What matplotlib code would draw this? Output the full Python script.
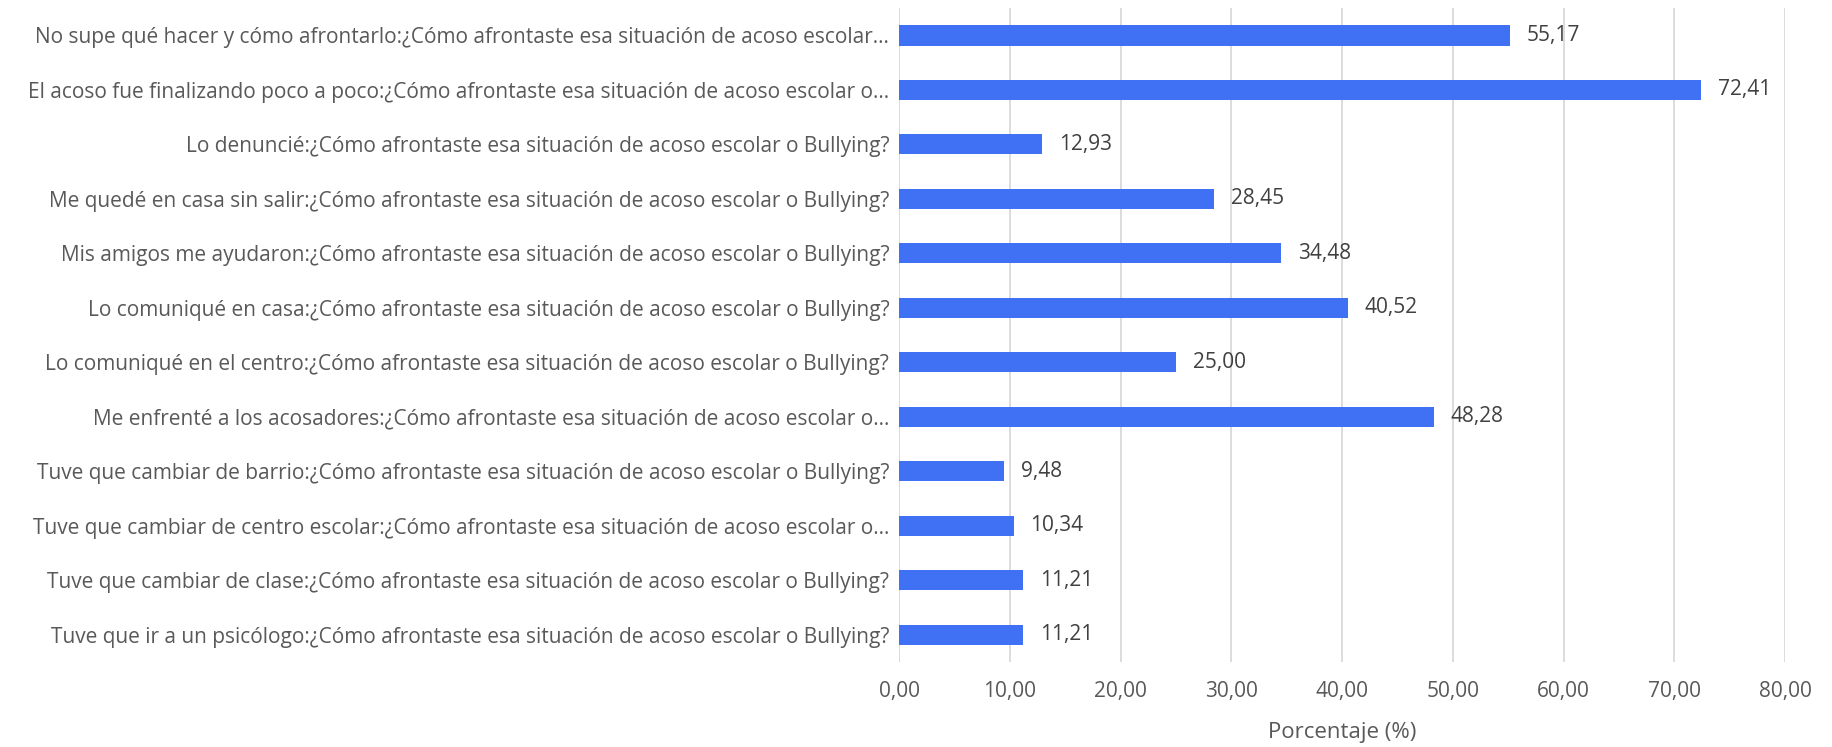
import matplotlib.pyplot as plt
from matplotlib.ticker import FuncFormatter

categories = [
    "No supe qué hacer y cómo afrontarlo:¿Cómo afrontaste esa situación de acoso escolar…",
    "El acoso fue finalizando poco a poco:¿Cómo afrontaste esa situación de acoso escolar o…",
    "Lo denuncié:¿Cómo afrontaste esa situación de acoso escolar o Bullying?",
    "Me quedé en casa sin salir:¿Cómo afrontaste esa situación de acoso escolar o Bullying?",
    "Mis amigos me ayudaron:¿Cómo afrontaste esa situación de acoso escolar o Bullying?",
    "Lo comuniqué en casa:¿Cómo afrontaste esa situación de acoso escolar o Bullying?",
    "Lo comuniqué en el centro:¿Cómo afrontaste esa situación de acoso escolar o Bullying?",
    "Me enfrenté a los acosadores:¿Cómo afrontaste esa situación de acoso escolar o…",
    "Tuve que cambiar de barrio:¿Cómo afrontaste esa situación de acoso escolar o Bullying?",
    "Tuve que cambiar de centro escolar:¿Cómo afrontaste esa situación de acoso escolar o…",
    "Tuve que cambiar de clase:¿Cómo afrontaste esa situación de acoso escolar o Bullying?",
    "Tuve que ir a un psicólogo:¿Cómo afrontaste esa situación de acoso escolar o Bullying?",
]
porcentaje = [55.17, 72.41, 12.93, 28.45, 34.48, 40.52, 25.00, 48.28, 9.48, 10.34, 11.21, 11.21]
x_ticks = [0, 10, 20, 30, 40, 50, 60, 70, 80]

plt.rcParams['font.family'] = ['Open Sans', 'DejaVu Sans']

def coma(v, pos=None):
    return f"{v:.2f}".replace(".", ",")

fig = plt.figure(figsize=(18.33, 7.47), dpi=100)
ax = fig.add_axes([0.4905, 0.1138, 0.4833, 0.8752])

pos = list(range(len(categories)))
ax.barh(pos, porcentaje, height=0.37, color="#4070F4", zorder=3)
for p, v in zip(pos, porcentaje):
    ax.annotate(coma(v), (v, p), xytext=(12, 0), textcoords="offset points",
                va="center", ha="left", fontsize=15, color="#404040")

ax.set_xlim(0, 80)
ax.set_ylim(len(categories) - 0.5, -0.5)
ax.set_xticks(x_ticks)
ax.xaxis.set_major_formatter(FuncFormatter(coma))
ax.set_yticks(pos)
ax.set_yticklabels(categories)
ax.tick_params(axis="both", length=0, labelsize=15, labelcolor="#595959")
ax.tick_params(axis="x", pad=14)
ax.tick_params(axis="y", pad=7)
ax.grid(axis="x", color="#D9D9D9", linewidth=1.3, zorder=0)
for s in ax.spines.values():
    s.set_visible(False)
ax.set_xlabel("Porcentaje (%)", fontsize=16, color="#595959", labelpad=14)

fig.savefig("out.png", dpi=100)
